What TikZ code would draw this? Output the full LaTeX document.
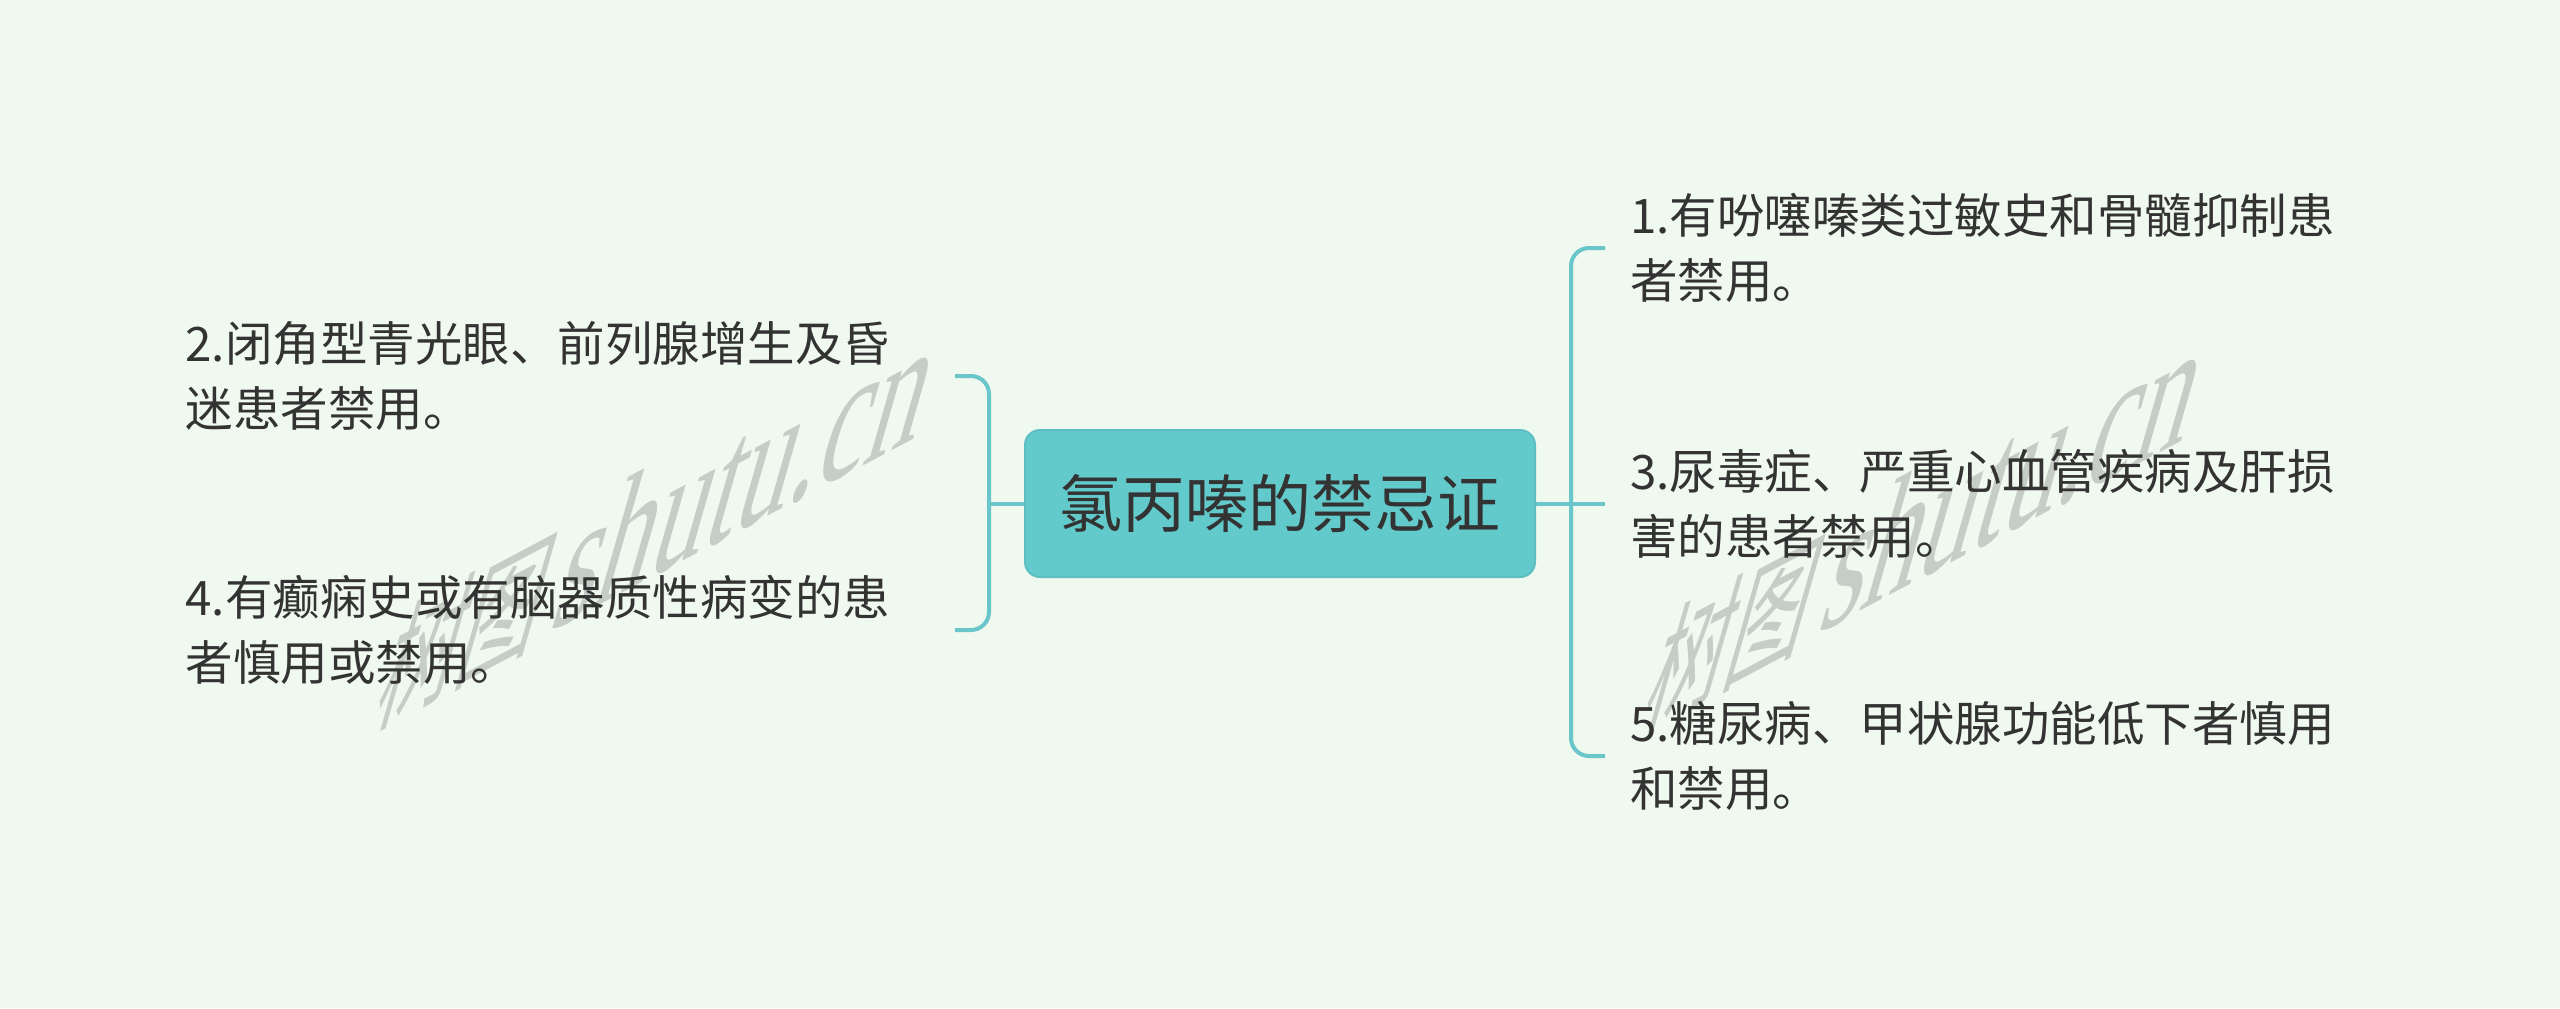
\documentclass[tikz,border=0pt]{standalone}
\usepackage{fontspec}
\newfontfamily\cjk{Noto Sans CJK SC}
\newfontfamily\wmserif{Liberation Serif}
\definecolor{bgcol}{HTML}{F0F9EF}
\definecolor{rootfill}{HTML}{63CACC}
\definecolor{rootline}{HTML}{5DBFC2}
\definecolor{linecol}{HTML}{6AC6CA}
\definecolor{txtcol}{HTML}{333333}
\definecolor{wmcol}{HTML}{C6CCC6}
\begin{document}
\begin{tikzpicture}[x=0.5pt, y=-0.5pt,
  root/.style={draw=rootline, line width=1pt, fill=rootfill, rounded corners=7.5pt,
    minimum width=255pt, minimum height=73.5pt, inner sep=0pt, text=txtcol,
    font=\cjk\fontsize{31.5}{36}\selectfont},
  leaf/.style={text width=372pt, align=left, inner xsep=12.5pt, inner ysep=0pt,
    text=txtcol, font=\cjk\fontsize{23.75}{32.5}\selectfont},
  branch/.style={draw=linecol, line width=2pt, rounded corners=9pt},
  watermark/.style={cm={0.883,0.469,0.44,1.54,(0,0)}, text=wmcol}]
	% 1. 背景与水印
	\fill[bgcol] (0,0) rectangle (2560,1008);
	\useasboundingbox (0,0) rectangle (2560,1008);
	\node[watermark] (wm1) at (660,522) {{\cjk\fontsize{46}{50}\selectfont 树图}\hspace{8pt}{\wmserif\fontsize{62}{64}\selectfont shutu.cn}};
	\node[watermark] (wm2) at (1928,524) {{\cjk\fontsize{46}{50}\selectfont 树图}\hspace{8pt}{\wmserif\fontsize{62}{64}\selectfont shutu.cn}};
	
	% 2. 中心主题
	\node[root] (root) at (1280,503.5) {氯丙嗪的禁忌证};
	
	% 3. 右侧分支
	\node[leaf, anchor=west] (n1) at (1605,248) {1.有吩噻嗪类过敏史和骨髓抑制患\\者禁用。};
	\node[leaf, anchor=west] (n3) at (1605,503.5) {3.尿毒症、严重心血管疾病及肝损\\害的患者禁用。};
	\node[leaf, anchor=west] (n5) at (1605,756) {5.糖尿病、甲状腺功能低下者慎用\\和禁用。};
	
	% 4. 左侧分支
	\node[leaf, anchor=east] (n2) at (955,376) {2.闭角型青光眼、前列腺增生及昏\\迷患者禁用。};
	\node[leaf, anchor=east] (n4) at (955,630) {4.有癫痫史或有脑器质性病变的患\\者慎用或禁用。};
	
	% 5. 连线
	\coordinate (rspine) at (1571,503.5);
	\coordinate (lspine) at (989,503.5);
	\draw[branch] (root.east) -- (rspine) -- (n3.west);
	\draw[branch] (n1.west) -| (rspine) |- (n5.west);
	\draw[branch] (root.west) -- (lspine);
	\draw[branch] (n2.east) -| (lspine) |- (n4.east);
\end{tikzpicture}
\end{document}
